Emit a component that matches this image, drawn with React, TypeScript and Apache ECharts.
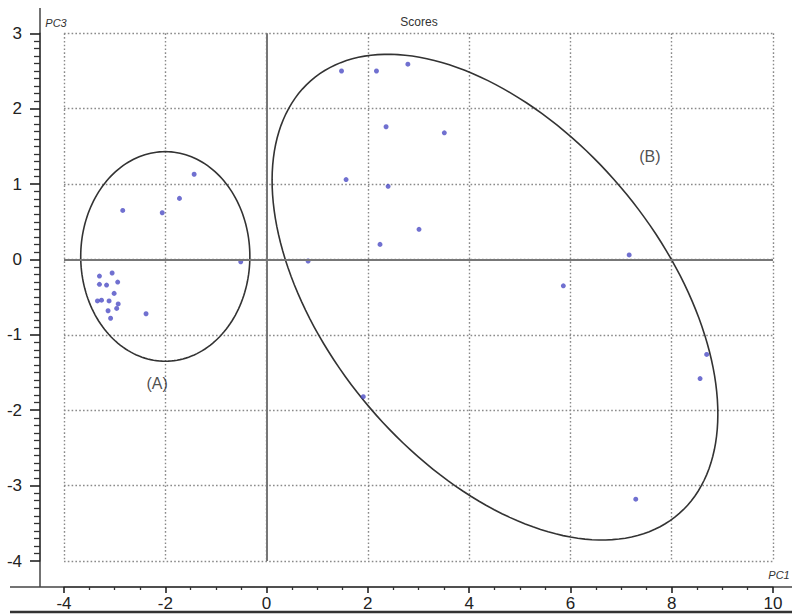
import React, { useEffect, useRef } from "react";
import * as echarts from "echarts";

// Scores (PC1, PC3) — group A
const groupA: [number, number][] = [
  [-1.43, 1.13], [-1.72, 0.81], [-2.84, 0.65], [-2.06, 0.62], [-0.51, -0.03],
  [-3.05, -0.18], [-3.30, -0.22], [-2.94, -0.30], [-3.30, -0.33], [-3.16, -0.34],
  [-3.01, -0.45], [-3.34, -0.55], [-3.26, -0.54], [-3.11, -0.55], [-2.93, -0.59],
  [-2.96, -0.65], [-3.13, -0.68], [-3.08, -0.78], [-2.38, -0.72],
];
// Scores — group B
const groupB: [number, number][] = [
  [1.48, 2.50], [2.17, 2.50], [2.79, 2.59], [2.36, 1.76], [3.51, 1.68],
  [1.57, 1.06], [2.40, 0.97], [0.82, -0.02], [2.24, 0.20], [3.01, 0.40],
  [1.91, -1.82], [7.16, 0.06], [5.86, -0.35], [8.69, -1.26], [8.56, -1.58],
  [7.29, -3.18],
];
// Ellipses: [centerX, centerY, semiAxisA, semiAxisB, angleDeg]
const ellipses: number[][] = [
  [-2.0, 0.04, 1.67, 1.39, 0],
  [4.51, -0.5, 4.8, 2.59, -28.3],
];
const groupLabels = [
  { name: "(A)", value: [-2.16, -1.64] },
  { name: "(B)", value: [7.57, 1.36] },
];
const xTicks = { min: -4, max: 10, interval: 2 };
const yTicks = { min: -4, max: 3, interval: 1 };

const FONT = "'Liberation Sans', Arial, sans-serif";
const NARROW = "'Liberation Sans Narrow', 'Liberation Sans', Arial, sans-serif";

export default function App() {
  const ref = useRef<HTMLDivElement>(null);
  useEffect(() => {
    if (!ref.current) return;
    const chart = echarts.init(ref.current, null, { renderer: "svg" });
    const gridLine = { show: true, lineStyle: { color: "#8a8a8a", type: [1.6, 2.2] as any, width: 1.4 } };
    const axisLine = { show: true, onZero: false, lineStyle: { color: "#444", width: 1.5 } };
    chart.setOption({
      animation: false,
      backgroundColor: "#fff",
      grid: { left: 64, right: 19, top: 33.3, bottom: 54 },
      xAxis: {
        type: "value",
        min: xTicks.min,
        max: xTicks.max,
        interval: xTicks.interval,
        offset: 26,
        axisLine,
        axisTick: { show: true, length: 6, lineStyle: { color: "#222", width: 1.6 } },
        minorTick: { show: true, splitNumber: 4, length: 3, lineStyle: { color: "#333", width: 1.3 } },
        axisLabel: { fontSize: 17, color: "#222", margin: 8, fontFamily: FONT },
        splitLine: gridLine,
      },
      yAxis: {
        type: "value",
        min: yTicks.min,
        max: yTicks.max,
        interval: yTicks.interval,
        offset: 24,
        axisLine,
        axisTick: { show: true, length: 10, lineStyle: { color: "#222", width: 1.6 } },
        minorTick: { show: true, splitNumber: 10, length: 6, lineStyle: { color: "#333", width: 1.3 } },
        axisLabel: { fontSize: 17, color: "#222", margin: 18, fontFamily: FONT },
        splitLine: gridLine,
      },
      graphic: [
        { type: "line", shape: { x1: 40, y1: 8, x2: 40, y2: 587 }, style: { stroke: "#444", lineWidth: 1.5 } },
        { type: "line", shape: { x1: 10, y1: 587, x2: 792, y2: 587 }, style: { stroke: "#444", lineWidth: 1.5 } },
        { type: "line", shape: { x1: 10, y1: 612, x2: 792, y2: 612 }, style: { stroke: "#333", lineWidth: 2.5 } },
        { type: "text", x: 56, y: 23, style: { text: "PC3", fontSize: 11, fontStyle: "italic", fontFamily: NARROW, fill: "#333", align: "center", verticalAlign: "middle" } },
        { type: "text", x: 419, y: 22, style: { text: "Scores", fontSize: 12, fontFamily: NARROW, fill: "#333", align: "center", verticalAlign: "middle" } },
        { type: "text", x: 779, y: 575, style: { text: "PC1", fontSize: 11, fontStyle: "italic", fontFamily: NARROW, fill: "#333", align: "center", verticalAlign: "middle" } },
      ],
      series: [
        {
          type: "custom",
          data: ellipses,
          silent: true,
          z: 3,
          renderItem: (params: any, api: any) => {
            const cx = api.value(0), cy = api.value(1), a = api.value(2), b = api.value(3);
            const ang = (api.value(4) * Math.PI) / 180;
            const pts: number[][] = [];
            for (let i = 0; i <= 180; i++) {
              const t = (i / 180) * Math.PI * 2;
              const ex = a * Math.cos(t), ey = b * Math.sin(t);
              const x = cx + ex * Math.cos(ang) - ey * Math.sin(ang);
              const y = cy + ex * Math.sin(ang) + ey * Math.cos(ang);
              pts.push(api.coord([x, y]));
            }
            return { type: "polygon", shape: { points: pts }, style: { fill: "none", stroke: "#333", lineWidth: 1.6 } };
          },
        },
        {
          type: "scatter",
          data: [],
          z: 2,
          markLine: {
            silent: true,
            symbol: "none",
            label: { show: false },
            lineStyle: { color: "#777", width: 2, type: "solid" },
            data: [{ xAxis: 0 }, { yAxis: 0 }],
          },
        },
        { type: "scatter", data: groupA, symbolSize: 5, itemStyle: { color: "#4c4cc4" }, z: 4 },
        { type: "scatter", data: groupB, symbolSize: 5, itemStyle: { color: "#4c4cc4" }, z: 4 },
        {
          type: "scatter",
          data: groupLabels,
          symbolSize: 1,
          itemStyle: { color: "transparent" },
          label: { show: true, position: "inside", formatter: "{b}", fontSize: 16, color: "#222", fontFamily: FONT },
          z: 5,
        },
      ],
    });
    return () => chart.dispose();
  }, []);
  return <div ref={ref} style={{ position: "fixed", left: 0, top: 0, width: 792, height: 615 }} />;
}
